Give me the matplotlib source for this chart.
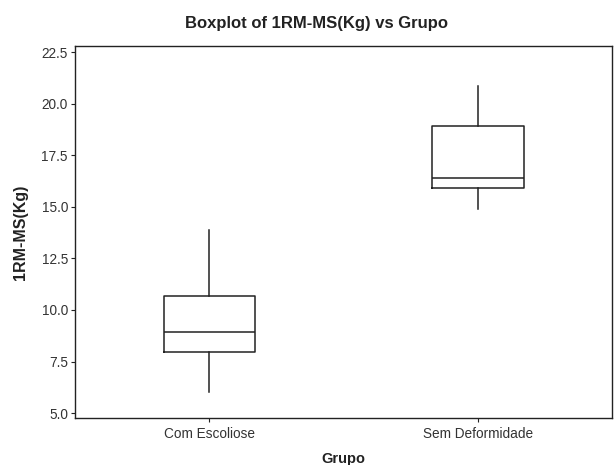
import matplotlib
matplotlib.use("Agg")
import matplotlib.pyplot as plt

# group labels and box statistics
groups = ["Com Escoliose", "Sem Deformidade"]
whisker_low = [6.0, 14.9]
q1 = [7.95, 15.9]
median = [8.95, 16.4]
q3 = [10.7, 18.9]
whisker_high = [13.9, 20.85]

yticks = [5.0, 7.5, 10.0, 12.5, 15.0, 17.5, 20.0, 22.5]

plt.rcParams["font.family"] = ["Liberation Sans", "DejaVu Sans"]

stats = []
for i, g in enumerate(groups):
    stats.append(dict(label=g, whislo=whisker_low[i], q1=q1[i], med=median[i],
                      q3=q3[i], whishi=whisker_high[i], fliers=[]))

fig = plt.figure(figsize=(6.14, 4.65), dpi=100)
ax = fig.add_axes([0.122, 0.101, 0.875, 0.80])

line = dict(color="#222222", linewidth=1.1)
ax.bxp(stats, positions=[1, 2], widths=0.34, showcaps=False, showfliers=False,
       boxprops=line, whiskerprops=line, medianprops=line)

ax.set_xlim(0.5, 2.5)
ax.set_ylim(4.76, 22.8)
ax.set_yticks(yticks)
ax.set_yticklabels([f"{v:.1f}" for v in yticks])
ax.tick_params(axis="both", direction="out", length=3, width=0.8,
               labelsize=9.8, colors="#222222", labelcolor="#333333")
ax.tick_params(axis="y", pad=2)
for s in ax.spines.values():
    s.set_linewidth(1.0)
    s.set_color("#222222")

ax.set_xlabel("Grupo", fontsize=10.5, fontweight="bold", color="#222222", labelpad=8)
ax.set_ylabel("1RM-MS(Kg)", fontsize=11.5, fontweight="bold", color="#222222", labelpad=10)
fig.text(0.515, 0.95, "Boxplot of 1RM-MS(Kg) vs Grupo", ha="center", va="center",
         fontsize=12, fontweight="bold", color="#222222")

fig.savefig("out.png", dpi=100)
